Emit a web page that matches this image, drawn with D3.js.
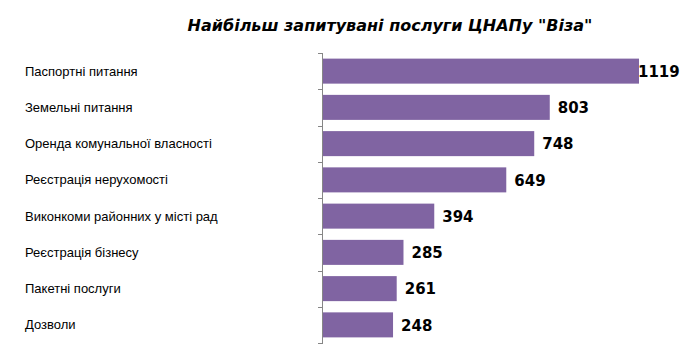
<!DOCTYPE html>
<html lang="uk">
  <head>
    <meta charset="utf-8">
    <title>ЦНАП Віза</title>
    <script src="https://cdn.jsdelivr.net/npm/d3@7"></script>
    <style>
      body { margin: 0; background: #fff; }
    </style>
  </head>
  <body>
    <script>

      var w = 687;
      var h = 351;

      // data
      var services = [
        "Паспортні питання",
        "Земельні питання",
        "Оренда комунальної власності",
        "Реєстрація нерухомості",
        "Виконкоми районних у місті рад",
        "Реєстрація бізнесу",
        "Пакетні послуги",
        "Дозволи"
      ];
      var requests = [1119, 803, 748, 649, 394, 285, 261, 248];
      var chartTitle = "Найбільш запитувані послуги ЦНАПу \"Віза\"";

      var rows = services.map(function(s, i) {
        return { name: s, value: requests[i] };
      });

      // note: "top" is taken by window.top, so plot edges get other names
      var plotLeft = 323, plotTop = 53, plotBottom = 343;

      var xScale = d3.scaleLinear()
                     .domain([0, 1119])
                     .range([plotLeft, 639]);

      var yScale = d3.scaleBand()
                     .domain(services)
                     .range([plotTop, plotBottom])
                     .paddingInner(0.31)
                     .paddingOuter(0.155);

      var svg = d3.select("body")
                  .append("svg")
                  .attr("width", w)
                  .attr("height", h);

      // title
      svg.append("text")
         .attr("x", 390)
         .attr("y", 31)
         .attr("text-anchor", "middle")
         .attr("font-family", "DejaVu Sans")
         .attr("font-style", "italic")
         .attr("font-weight", "bold")
         .attr("font-size", "16px")
         .attr("fill", "#000")
         .text(chartTitle);

      // bars
      svg.selectAll("rect.bar")
         .data(rows)
         .enter()
         .append("rect")
         .attr("class", "bar")
         .attr("x", xScale(0))
         .attr("y", function(d) { return yScale(d.name); })
         .attr("width", function(d) { return xScale(d.value) - xScale(0); })
         .attr("height", yScale.bandwidth())
         .attr("fill", "#8064A2");

      // axis with ticks between the bands
      var tickPos = d3.range(services.length + 1).map(function(i) {
        return plotTop + i * (plotBottom - plotTop) / services.length;
      });
      var axis = svg.append("g").attr("stroke", "#868686").attr("stroke-width", 1);
      axis.append("line")
          .attr("x1", plotLeft - 0.5).attr("x2", plotLeft - 0.5)
          .attr("y1", plotTop).attr("y2", plotBottom);
      axis.selectAll("line.tick")
          .data(tickPos)
          .enter()
          .append("line")
          .attr("class", "tick")
          .attr("x1", plotLeft - 5).attr("x2", plotLeft)
          .attr("y1", function(d) { return Math.round(d) + 0.5; })
          .attr("y2", function(d) { return Math.round(d) + 0.5; });

      // category labels
      svg.selectAll("text.cat")
         .data(rows)
         .enter()
         .append("text")
         .attr("class", "cat")
         .attr("x", 25)
         .attr("y", function(d) { return yScale(d.name) + yScale.bandwidth() / 2; })
         .attr("dy", "0.35em")
         .attr("font-family", "Liberation Sans")
         .attr("font-size", "13px")
         .attr("fill", "#000")
         .text(function(d) { return d.name; });

      // value labels
      svg.selectAll("text.val")
         .data(rows)
         .enter()
         .append("text")
         .attr("class", "val")
         .attr("x", function(d) { return Math.min(xScale(d.value) + 8, 638); })
         .attr("y", function(d) { return yScale(d.name) + yScale.bandwidth() / 2; })
         .attr("dy", "0.38em")
         .attr("font-family", "DejaVu Sans")
         .attr("font-weight", "bold")
         .attr("font-size", "15px")
         .attr("fill", "#000")
         .text(function(d) { return d.value; });

    </script>
  </body>
</html>
